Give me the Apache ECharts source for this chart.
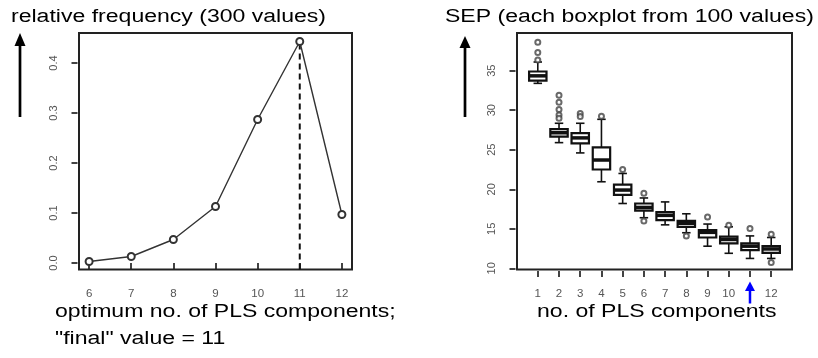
<!DOCTYPE html>
<html>
<head>
<meta charset="utf-8">
<script src="https://cdn.jsdelivr.net/npm/echarts@6/dist/echarts.min.js"></script>
<style>
html,body{margin:0;padding:0;background:#fff;}
#c{width:818px;height:358px;}
</style>
</head>
<body>
<div id="c"></div>
<script>
// ---- data: left panel (relative frequency of optimum no. of components)
const leftComponents = [6, 7, 8, 9, 10, 11, 12];
const leftFrequency  = [0.003, 0.013, 0.047, 0.113, 0.287, 0.443, 0.097];
const finalOptimum = 11;
const leftYTicks = [0, 0.1, 0.2, 0.3, 0.4];

// ---- data: right panel (SEP boxplots, 100 values each)
const rightComponents = [1, 2, 3, 4, 5, 6, 7, 8, 9, 10, 11, 12];
const whiskerLow  = [33.4, 25.9, 24.6, 20.95, 18.2, 16.4, 15.5, 14.5, 12.8, 11.9, 11.25, 11.25];
const quartile1   = [33.75, 26.65, 25.8, 22.5, 19.3, 17.3, 16.1, 15.25, 13.9, 13.15, 12.3, 11.95];
const medianSEP   = [34.35, 27.15, 26.5, 23.7, 19.9, 17.7, 16.7, 15.7, 14.55, 13.65, 12.8, 12.45];
const quartile3   = [34.9, 27.6, 27.1, 25.3, 20.6, 18.2, 17.1, 16.0, 14.85, 14.0, 13.15, 12.8];
const whiskerHigh = [36.1, 28.35, 28.35, 28.85, 22.0, 18.9, 18.4, 16.9, 15.6, 15.25, 14.1, 13.9];
const outlierComponent = [1, 1, 1, 2, 2, 2, 2, 2, 3, 3, 4, 5, 6, 6, 8, 9, 10, 11, 12, 12];
const outlierSEP       = [38.6, 37.3, 36.35, 31.9, 31.0, 30.1, 29.4, 29.0, 29.6, 29.2, 29.25, 22.5, 19.5, 16.0, 14.1, 16.5, 15.45, 15.05, 14.3, 10.75];
const rightYTicks = [10, 15, 20, 25, 30, 35];

const FONT = '"Liberation Sans", Arial, sans-serif';
const chart = echarts.init(document.getElementById('c'), null, {renderer: 'canvas'});

const boxData = rightComponents.map((c, i) => [c, whiskerLow[i], quartile1[i], medianSEP[i], quartile3[i], whiskerHigh[i]]);
const outlierData = outlierComponent.map((c, i) => [c, outlierSEP[i]]);
const lineData = leftComponents.map((c, i) => [c, leftFrequency[i]]);
const optIdx = leftComponents.indexOf(finalOptimum);

function xAxisCfg(gridIndex, min, max, ticks, fmt) {
  return {
    gridIndex, type: 'value', min, max, offset: 1.5,
    axisLine: {show: false},
    splitLine: {show: false},
    axisTick: {show: true, length: 6, customValues: ticks, lineStyle: {color: '#222', width: 1.7}},
    axisLabel: {customValues: ticks, margin: 17, fontSize: 11.5, color: '#555', fontFamily: FONT, formatter: fmt}
  };
}
function yAxisCfg(gridIndex, min, max, ticks, fmt) {
  return {
    gridIndex, type: 'value', min, max, offset: 1.5,
    axisLine: {show: false},
    splitLine: {show: false},
    axisTick: {show: true, length: 6, customValues: ticks, lineStyle: {color: '#222', width: 1.7}},
    axisLabel: {customValues: ticks, rotate: 90, margin: 18, fontSize: 11, color: '#555', fontFamily: FONT, formatter: fmt}
  };
}

function renderBox(params, api) {
  const x = api.value(0);
  const lo = api.coord([x, api.value(1)]);
  const q1 = api.coord([x, api.value(2)]);
  const md = api.coord([x, api.value(3)]);
  const q3 = api.coord([x, api.value(4)]);
  const hi = api.coord([x, api.value(5)]);
  const unit = api.size([1, 0])[0];
  const hw = unit * 0.41;
  const cw = unit * 0.2;
  const cx = lo[0];
  const stroke = {stroke: '#111', lineWidth: 1.6, fill: null};
  return {
    type: 'group',
    children: [
      {type: 'line', shape: {x1: cx, y1: lo[1], x2: cx, y2: q1[1]}, style: stroke},
      {type: 'line', shape: {x1: cx, y1: q3[1], x2: cx, y2: hi[1]}, style: stroke},
      {type: 'line', shape: {x1: cx - cw, y1: lo[1], x2: cx + cw, y2: lo[1]}, style: stroke},
      {type: 'line', shape: {x1: cx - cw, y1: hi[1], x2: cx + cw, y2: hi[1]}, style: stroke},
      {type: 'rect', shape: {x: cx - hw, y: q3[1], width: 2 * hw, height: q1[1] - q3[1]},
       style: {fill: '#fff', stroke: '#111', lineWidth: 2.2}},
      {type: 'line', shape: {x1: cx - hw, y1: md[1], x2: cx + hw, y2: md[1]}, style: {stroke: '#111', lineWidth: 3.5}}
    ]
  };
}

chart.setOption({
  animation: false,
  backgroundColor: '#fff',
  grid: [
    {left: 79, top: 33, width: 273, height: 236.5, show: true, borderColor: '#222', borderWidth: 2, backgroundColor: 'transparent'},
    {left: 517, top: 33, width: 275, height: 236.5, show: true, borderColor: '#222', borderWidth: 2, backgroundColor: 'transparent'}
  ],
  xAxis: [
    xAxisCfg(0, 5.76, 12.24, leftComponents, v => String(v)),
    xAxisCfg(1, 0.02, 12.98, rightComponents, v => (v === finalOptimum ? '' : String(v)))
  ],
  yAxis: [
    yAxisCfg(0, -0.013, 0.46, leftYTicks, v => v.toFixed(1)),
    yAxisCfg(1, 9.85, 39.77, rightYTicks, v => String(v))
  ],
  series: [
    {
      type: 'line', xAxisIndex: 0, yAxisIndex: 0, data: [[finalOptimum, -0.013], [finalOptimum, leftFrequency[optIdx]]],
      symbol: 'none', lineStyle: {color: '#111', width: 2, type: [6, 4]}, z: 1
    },
    {
      type: 'line', xAxisIndex: 0, yAxisIndex: 0, data: lineData,
      symbol: 'emptyCircle', symbolSize: 7,
      lineStyle: {color: '#333', width: 1.4},
      itemStyle: {color: '#333', borderWidth: 1.3},
      z: 3
    },
    {
      type: 'custom', xAxisIndex: 1, yAxisIndex: 1, data: boxData, renderItem: renderBox,
      encode: {x: 0, y: [1, 2, 3, 4, 5]}, z: 2
    },
    {
      type: 'scatter', xAxisIndex: 1, yAxisIndex: 1, data: outlierData,
      symbol: 'emptyCircle', symbolSize: 5,
      itemStyle: {color: '#444', borderColor: '#444', borderWidth: 1}, z: 3
    }
  ]
});

const arrowX = chart.convertToPixel({xAxisIndex: 1}, finalOptimum);
const textStyle = (t) => ({text: t, fontSize: 18, fontFamily: FONT, fill: '#000', verticalAlign: 'middle'});
chart.setOption({
  graphic: [
    {type: 'text', x: 11, y: 17, scaleX: 1.28, style: textStyle('relative frequency (300 values)')},
    {type: 'text', x: 445, y: 17, scaleX: 1.28, style: textStyle('SEP (each boxplot from 100 values)')},
    {type: 'text', x: 55, y: 312, scaleX: 1.28, style: textStyle('optimum no. of PLS components;')},
    {type: 'text', x: 55, y: 339, scaleX: 1.28, style: textStyle('"final" value = 11')},
    {type: 'text', x: 537, y: 312, scaleX: 1.28, style: textStyle('no. of PLS components')},
    {type: 'line', shape: {x1: 20, y1: 44, x2: 20, y2: 117}, style: {stroke: '#000', lineWidth: 2.7}},
    {type: 'polygon', shape: {points: [[20, 33], [14.5, 46], [25.5, 46]]}, style: {fill: '#000'}},
    {type: 'line', shape: {x1: 465, y1: 46, x2: 465, y2: 117}, style: {stroke: '#000', lineWidth: 2.7}},
    {type: 'polygon', shape: {points: [[465, 36], [459.5, 48], [470.5, 48]]}, style: {fill: '#000'}},
    {type: 'line', shape: {x1: arrowX, y1: 289, x2: arrowX, y2: 303.5}, style: {stroke: '#0000ff', lineWidth: 2.5}},
    {type: 'polygon', shape: {points: [[arrowX, 281.5], [arrowX - 5, 291], [arrowX + 5, 291]]}, style: {fill: '#0000ff'}}
  ]
});
</script>
</body>
</html>
